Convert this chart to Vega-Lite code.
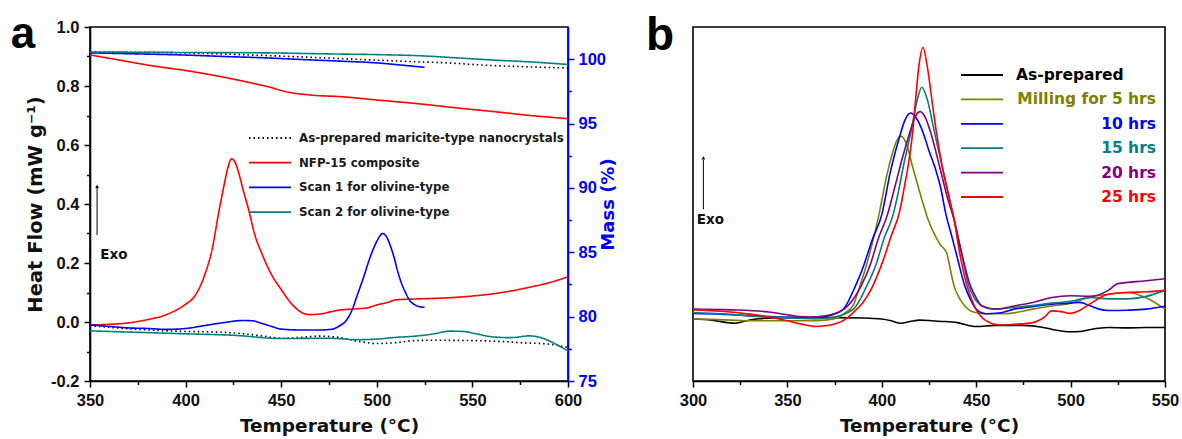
{
  "$schema": "https://vega.github.io/schema/vega-lite/v6.json",
  "background": "white",
  "padding": {"left": 10, "top": 12, "right": 5, "bottom": 5},
  "config": {
    "font": "Liberation Sans",
    "view": {"stroke": "#000", "strokeWidth": 1.6},
    "axis": {"grid": false, "labelFont": "Liberation Sans", "labelFontWeight": "bold", "labelFontSize": 16.5, "labelColor": "#111", "titleFont": "DejaVu Sans", "titleFontWeight": "bold", "titleFontSize": 18.5, "titleColor": "#111", "domainColor": "#000", "domainWidth": 1.6, "tickColor": "#000", "tickWidth": 1.5, "tickSize": 6, "labelPadding": 5, "labelFlush": false, "labelOverlap": false},
    "legend": {"padding": 0, "titlePadding": 0}
  },
  "datasets": {
    "dsc_a": [
      {"s":"As-prepared maricite-type nanocrystals","T":350,"hf":-0.012},{"s":"As-prepared maricite-type nanocrystals","T":360,"hf":-0.018},{"s":"As-prepared maricite-type nanocrystals","T":375,"hf":-0.025},{"s":"As-prepared maricite-type nanocrystals","T":390,"hf":-0.03},{"s":"As-prepared maricite-type nanocrystals","T":400,"hf":-0.032},{"s":"As-prepared maricite-type nanocrystals","T":410,"hf":-0.033},{"s":"As-prepared maricite-type nanocrystals","T":425,"hf":-0.037},{"s":"As-prepared maricite-type nanocrystals","T":440,"hf":-0.047},{"s":"As-prepared maricite-type nanocrystals","T":450,"hf":-0.055},{"s":"As-prepared maricite-type nanocrystals","T":460,"hf":-0.052},{"s":"As-prepared maricite-type nanocrystals","T":470,"hf":-0.048},{"s":"As-prepared maricite-type nanocrystals","T":480,"hf":-0.052},{"s":"As-prepared maricite-type nanocrystals","T":490,"hf":-0.065},{"s":"As-prepared maricite-type nanocrystals","T":500,"hf":-0.073},{"s":"As-prepared maricite-type nanocrystals","T":510,"hf":-0.07},{"s":"As-prepared maricite-type nanocrystals","T":520,"hf":-0.063},{"s":"As-prepared maricite-type nanocrystals","T":530,"hf":-0.062},{"s":"As-prepared maricite-type nanocrystals","T":550,"hf":-0.063},{"s":"As-prepared maricite-type nanocrystals","T":565,"hf":-0.066},{"s":"As-prepared maricite-type nanocrystals","T":575,"hf":-0.07},{"s":"As-prepared maricite-type nanocrystals","T":590,"hf":-0.075},{"s":"As-prepared maricite-type nanocrystals","T":600,"hf":-0.087},
      {"s":"NFP-15 composite","T":350,"hf":-0.01},{"s":"NFP-15 composite","T":360,"hf":-0.008},{"s":"NFP-15 composite","T":370,"hf":-0.003},{"s":"NFP-15 composite","T":380,"hf":0.008},{"s":"NFP-15 composite","T":390,"hf":0.025},{"s":"NFP-15 composite","T":395,"hf":0.04},{"s":"NFP-15 composite","T":400,"hf":0.06},{"s":"NFP-15 composite","T":405,"hf":0.09},{"s":"NFP-15 composite","T":410,"hf":0.16},{"s":"NFP-15 composite","T":414,"hf":0.25},{"s":"NFP-15 composite","T":417,"hf":0.36},{"s":"NFP-15 composite","T":420,"hf":0.46},{"s":"NFP-15 composite","T":422,"hf":0.52},{"s":"NFP-15 composite","T":424,"hf":0.553},{"s":"NFP-15 composite","T":426,"hf":0.54},{"s":"NFP-15 composite","T":428,"hf":0.5},{"s":"NFP-15 composite","T":430,"hf":0.45},{"s":"NFP-15 composite","T":433,"hf":0.38},{"s":"NFP-15 composite","T":436,"hf":0.3},{"s":"NFP-15 composite","T":440,"hf":0.23},{"s":"NFP-15 composite","T":445,"hf":0.16},{"s":"NFP-15 composite","T":450,"hf":0.11},{"s":"NFP-15 composite","T":455,"hf":0.065},{"s":"NFP-15 composite","T":460,"hf":0.035},{"s":"NFP-15 composite","T":465,"hf":0.025},{"s":"NFP-15 composite","T":470,"hf":0.027},{"s":"NFP-15 composite","T":480,"hf":0.04},{"s":"NFP-15 composite","T":490,"hf":0.045},{"s":"NFP-15 composite","T":495,"hf":0.048},{"s":"NFP-15 composite","T":500,"hf":0.058},{"s":"NFP-15 composite","T":505,"hf":0.065},{"s":"NFP-15 composite","T":510,"hf":0.075},{"s":"NFP-15 composite","T":520,"hf":0.078},{"s":"NFP-15 composite","T":530,"hf":0.08},{"s":"NFP-15 composite","T":540,"hf":0.083},{"s":"NFP-15 composite","T":550,"hf":0.088},{"s":"NFP-15 composite","T":560,"hf":0.095},{"s":"NFP-15 composite","T":570,"hf":0.105},{"s":"NFP-15 composite","T":580,"hf":0.118},{"s":"NFP-15 composite","T":590,"hf":0.133},{"s":"NFP-15 composite","T":600,"hf":0.153},
      {"s":"Scan 1 for olivine-type","T":350,"hf":-0.01},{"s":"Scan 1 for olivine-type","T":360,"hf":-0.015},{"s":"Scan 1 for olivine-type","T":370,"hf":-0.02},{"s":"Scan 1 for olivine-type","T":380,"hf":-0.022},{"s":"Scan 1 for olivine-type","T":390,"hf":-0.025},{"s":"Scan 1 for olivine-type","T":400,"hf":-0.022},{"s":"Scan 1 for olivine-type","T":410,"hf":-0.012},{"s":"Scan 1 for olivine-type","T":420,"hf":-0.002},{"s":"Scan 1 for olivine-type","T":430,"hf":0.005},{"s":"Scan 1 for olivine-type","T":435,"hf":0.004},{"s":"Scan 1 for olivine-type","T":440,"hf":-0.005},{"s":"Scan 1 for olivine-type","T":445,"hf":-0.015},{"s":"Scan 1 for olivine-type","T":450,"hf":-0.024},{"s":"Scan 1 for olivine-type","T":460,"hf":-0.027},{"s":"Scan 1 for olivine-type","T":470,"hf":-0.027},{"s":"Scan 1 for olivine-type","T":476,"hf":-0.025},{"s":"Scan 1 for olivine-type","T":480,"hf":-0.015},{"s":"Scan 1 for olivine-type","T":484,"hf":0.005},{"s":"Scan 1 for olivine-type","T":487,"hf":0.04},{"s":"Scan 1 for olivine-type","T":490,"hf":0.095},{"s":"Scan 1 for olivine-type","T":493,"hf":0.15},{"s":"Scan 1 for olivine-type","T":496,"hf":0.21},{"s":"Scan 1 for olivine-type","T":499,"hf":0.26},{"s":"Scan 1 for olivine-type","T":501,"hf":0.285},{"s":"Scan 1 for olivine-type","T":503,"hf":0.3},{"s":"Scan 1 for olivine-type","T":505,"hf":0.29},{"s":"Scan 1 for olivine-type","T":507,"hf":0.26},{"s":"Scan 1 for olivine-type","T":509,"hf":0.22},{"s":"Scan 1 for olivine-type","T":511,"hf":0.17},{"s":"Scan 1 for olivine-type","T":513,"hf":0.13},{"s":"Scan 1 for olivine-type","T":515,"hf":0.1},{"s":"Scan 1 for olivine-type","T":517,"hf":0.075},{"s":"Scan 1 for olivine-type","T":520,"hf":0.058},{"s":"Scan 1 for olivine-type","T":522,"hf":0.052},{"s":"Scan 1 for olivine-type","T":525,"hf":0.05},
      {"s":"Scan 2 for olivine-type","T":350,"hf":-0.03},{"s":"Scan 2 for olivine-type","T":375,"hf":-0.035},{"s":"Scan 2 for olivine-type","T":400,"hf":-0.04},{"s":"Scan 2 for olivine-type","T":425,"hf":-0.045},{"s":"Scan 2 for olivine-type","T":450,"hf":-0.056},{"s":"Scan 2 for olivine-type","T":475,"hf":-0.055},{"s":"Scan 2 for olivine-type","T":490,"hf":-0.06},{"s":"Scan 2 for olivine-type","T":500,"hf":-0.058},{"s":"Scan 2 for olivine-type","T":510,"hf":-0.052},{"s":"Scan 2 for olivine-type","T":520,"hf":-0.048},{"s":"Scan 2 for olivine-type","T":530,"hf":-0.04},{"s":"Scan 2 for olivine-type","T":538,"hf":-0.031},{"s":"Scan 2 for olivine-type","T":545,"hf":-0.032},{"s":"Scan 2 for olivine-type","T":552,"hf":-0.04},{"s":"Scan 2 for olivine-type","T":560,"hf":-0.05},{"s":"Scan 2 for olivine-type","T":570,"hf":-0.053},{"s":"Scan 2 for olivine-type","T":580,"hf":-0.047},{"s":"Scan 2 for olivine-type","T":588,"hf":-0.058},{"s":"Scan 2 for olivine-type","T":595,"hf":-0.08},{"s":"Scan 2 for olivine-type","T":600,"hf":-0.098}
    ],
    "mass_a": [
      {"s":"As-prepared maricite-type nanocrystals","T":350,"m":100.56},{"s":"As-prepared maricite-type nanocrystals","T":400,"m":100.49},{"s":"As-prepared maricite-type nanocrystals","T":433,"m":100.33},{"s":"As-prepared maricite-type nanocrystals","T":460,"m":100.18},{"s":"As-prepared maricite-type nanocrystals","T":485,"m":100.02},{"s":"As-prepared maricite-type nanocrystals","T":510,"m":99.86},{"s":"As-prepared maricite-type nanocrystals","T":537,"m":99.71},{"s":"As-prepared maricite-type nanocrystals","T":560,"m":99.51},{"s":"As-prepared maricite-type nanocrystals","T":580,"m":99.4},{"s":"As-prepared maricite-type nanocrystals","T":600,"m":99.32},
      {"s":"NFP-15 composite","T":350,"m":100.33},{"s":"NFP-15 composite","T":365,"m":99.94},{"s":"NFP-15 composite","T":382,"m":99.5},{"s":"NFP-15 composite","T":400,"m":99.12},{"s":"NFP-15 composite","T":422,"m":98.54},{"s":"NFP-15 composite","T":432,"m":98.23},{"s":"NFP-15 composite","T":442,"m":97.9},{"s":"NFP-15 composite","T":454,"m":97.43},{"s":"NFP-15 composite","T":465,"m":97.22},{"s":"NFP-15 composite","T":483,"m":97.07},{"s":"NFP-15 composite","T":500,"m":96.83},{"s":"NFP-15 composite","T":523,"m":96.52},{"s":"NFP-15 composite","T":542,"m":96.21},{"s":"NFP-15 composite","T":563,"m":95.9},{"s":"NFP-15 composite","T":580,"m":95.63},{"s":"NFP-15 composite","T":600,"m":95.38},
      {"s":"Scan 1 for olivine-type","T":350,"m":100.49},{"s":"Scan 1 for olivine-type","T":375,"m":100.41},{"s":"Scan 1 for olivine-type","T":402,"m":100.31},{"s":"Scan 1 for olivine-type","T":420,"m":100.21},{"s":"Scan 1 for olivine-type","T":442,"m":100.1},{"s":"Scan 1 for olivine-type","T":460,"m":99.98},{"s":"Scan 1 for olivine-type","T":482,"m":99.84},{"s":"Scan 1 for olivine-type","T":500,"m":99.71},{"s":"Scan 1 for olivine-type","T":515,"m":99.51},{"s":"Scan 1 for olivine-type","T":525,"m":99.37},
      {"s":"Scan 2 for olivine-type","T":350,"m":100.56},{"s":"Scan 2 for olivine-type","T":400,"m":100.52},{"s":"Scan 2 for olivine-type","T":442,"m":100.49},{"s":"Scan 2 for olivine-type","T":475,"m":100.41},{"s":"Scan 2 for olivine-type","T":502,"m":100.35},{"s":"Scan 2 for olivine-type","T":525,"m":100.25},{"s":"Scan 2 for olivine-type","T":542,"m":100.1},{"s":"Scan 2 for olivine-type","T":560,"m":99.94},{"s":"Scan 2 for olivine-type","T":580,"m":99.79},{"s":"Scan 2 for olivine-type","T":600,"m":99.59}
    ],
    "dsc_b": [
      {"s":"As-prepared","T":300,"v":0.175},{"s":"As-prepared","T":310,"v":0.172},{"s":"As-prepared","T":318,"v":0.165},{"s":"As-prepared","T":322,"v":0.163},{"s":"As-prepared","T":328,"v":0.17},{"s":"As-prepared","T":335,"v":0.176},{"s":"As-prepared","T":350,"v":0.179},{"s":"As-prepared","T":375,"v":0.179},{"s":"As-prepared","T":390,"v":0.178},{"s":"As-prepared","T":400,"v":0.175},{"s":"As-prepared","T":405,"v":0.17},{"s":"As-prepared","T":410,"v":0.163},{"s":"As-prepared","T":415,"v":0.168},{"s":"As-prepared","T":420,"v":0.172},{"s":"As-prepared","T":425,"v":0.171},{"s":"As-prepared","T":430,"v":0.169},{"s":"As-prepared","T":440,"v":0.165},{"s":"As-prepared","T":450,"v":0.154},{"s":"As-prepared","T":460,"v":0.157},{"s":"As-prepared","T":475,"v":0.157},{"s":"As-prepared","T":485,"v":0.152},{"s":"As-prepared","T":490,"v":0.146},{"s":"As-prepared","T":500,"v":0.139},{"s":"As-prepared","T":505,"v":0.14},{"s":"As-prepared","T":510,"v":0.145},{"s":"As-prepared","T":520,"v":0.151},{"s":"As-prepared","T":530,"v":0.15},{"s":"As-prepared","T":540,"v":0.151},{"s":"As-prepared","T":550,"v":0.151},
      {"s":"Milling for 5 hrs","T":300,"v":0.175},{"s":"Milling for 5 hrs","T":310,"v":0.174},{"s":"Milling for 5 hrs","T":320,"v":0.172},{"s":"Milling for 5 hrs","T":330,"v":0.17},{"s":"Milling for 5 hrs","T":345,"v":0.17},{"s":"Milling for 5 hrs","T":360,"v":0.17},{"s":"Milling for 5 hrs","T":370,"v":0.172},{"s":"Milling for 5 hrs","T":375,"v":0.176},{"s":"Milling for 5 hrs","T":380,"v":0.19},{"s":"Milling for 5 hrs","T":385,"v":0.215},{"s":"Milling for 5 hrs","T":388,"v":0.262},{"s":"Milling for 5 hrs","T":392,"v":0.33},{"s":"Milling for 5 hrs","T":395,"v":0.39},{"s":"Milling for 5 hrs","T":398.5,"v":0.47},{"s":"Milling for 5 hrs","T":402.6,"v":0.58},{"s":"Milling for 5 hrs","T":406,"v":0.65},{"s":"Milling for 5 hrs","T":408,"v":0.68},{"s":"Milling for 5 hrs","T":410.4,"v":0.691},{"s":"Milling for 5 hrs","T":413,"v":0.67},{"s":"Milling for 5 hrs","T":416.3,"v":0.606},{"s":"Milling for 5 hrs","T":421.2,"v":0.513},{"s":"Milling for 5 hrs","T":424.5,"v":0.456},{"s":"Milling for 5 hrs","T":428.4,"v":0.409},{"s":"Milling for 5 hrs","T":431,"v":0.385},{"s":"Milling for 5 hrs","T":434.3,"v":0.363},{"s":"Milling for 5 hrs","T":436.5,"v":0.31},{"s":"Milling for 5 hrs","T":438.3,"v":0.268},{"s":"Milling for 5 hrs","T":441,"v":0.235},{"s":"Milling for 5 hrs","T":444,"v":0.212},{"s":"Milling for 5 hrs","T":449,"v":0.194},{"s":"Milling for 5 hrs","T":455,"v":0.19},{"s":"Milling for 5 hrs","T":465,"v":0.19},{"s":"Milling for 5 hrs","T":480,"v":0.203},{"s":"Milling for 5 hrs","T":490,"v":0.212},{"s":"Milling for 5 hrs","T":500,"v":0.22},{"s":"Milling for 5 hrs","T":510,"v":0.236},{"s":"Milling for 5 hrs","T":520,"v":0.245},{"s":"Milling for 5 hrs","T":530,"v":0.25},{"s":"Milling for 5 hrs","T":540,"v":0.235},{"s":"Milling for 5 hrs","T":550,"v":0.203},
      {"s":"10 hrs","T":300,"v":0.191},{"s":"10 hrs","T":315,"v":0.189},{"s":"10 hrs","T":330,"v":0.184},{"s":"10 hrs","T":345,"v":0.181},{"s":"10 hrs","T":355,"v":0.18},{"s":"10 hrs","T":365,"v":0.18},{"s":"10 hrs","T":370,"v":0.182},{"s":"10 hrs","T":375,"v":0.189},{"s":"10 hrs","T":380,"v":0.205},{"s":"10 hrs","T":386,"v":0.268},{"s":"10 hrs","T":390,"v":0.32},{"s":"10 hrs","T":395,"v":0.4},{"s":"10 hrs","T":400,"v":0.47},{"s":"10 hrs","T":404.5,"v":0.59},{"s":"10 hrs","T":409.4,"v":0.69},{"s":"10 hrs","T":412.5,"v":0.74},{"s":"10 hrs","T":415.3,"v":0.757},{"s":"10 hrs","T":418,"v":0.745},{"s":"10 hrs","T":422,"v":0.7},{"s":"10 hrs","T":425,"v":0.65},{"s":"10 hrs","T":428,"v":0.606},{"s":"10 hrs","T":431,"v":0.55},{"s":"10 hrs","T":434,"v":0.47},{"s":"10 hrs","T":437,"v":0.41},{"s":"10 hrs","T":439.3,"v":0.363},{"s":"10 hrs","T":444,"v":0.268},{"s":"10 hrs","T":447,"v":0.23},{"s":"10 hrs","T":450,"v":0.203},{"s":"10 hrs","T":455,"v":0.19},{"s":"10 hrs","T":462,"v":0.192},{"s":"10 hrs","T":470,"v":0.203},{"s":"10 hrs","T":480,"v":0.21},{"s":"10 hrs","T":490,"v":0.217},{"s":"10 hrs","T":500,"v":0.22},{"s":"10 hrs","T":505,"v":0.222},{"s":"10 hrs","T":510,"v":0.213},{"s":"10 hrs","T":515,"v":0.203},{"s":"10 hrs","T":520,"v":0.199},{"s":"10 hrs","T":530,"v":0.2},{"s":"10 hrs","T":540,"v":0.203},{"s":"10 hrs","T":550,"v":0.211},
      {"s":"15 hrs","T":300,"v":0.193},{"s":"15 hrs","T":315,"v":0.19},{"s":"15 hrs","T":330,"v":0.184},{"s":"15 hrs","T":350,"v":0.178},{"s":"15 hrs","T":365,"v":0.176},{"s":"15 hrs","T":375,"v":0.181},{"s":"15 hrs","T":385,"v":0.203},{"s":"15 hrs","T":392,"v":0.268},{"s":"15 hrs","T":397,"v":0.33},{"s":"15 hrs","T":401,"v":0.4},{"s":"15 hrs","T":406,"v":0.47},{"s":"15 hrs","T":409,"v":0.54},{"s":"15 hrs","T":411.4,"v":0.606},{"s":"15 hrs","T":415.3,"v":0.7},{"s":"15 hrs","T":418.8,"v":0.795},{"s":"15 hrs","T":421.2,"v":0.83},{"s":"15 hrs","T":424.1,"v":0.795},{"s":"15 hrs","T":428,"v":0.7},{"s":"15 hrs","T":432,"v":0.606},{"s":"15 hrs","T":435.9,"v":0.513},{"s":"15 hrs","T":438.3,"v":0.456},{"s":"15 hrs","T":442.2,"v":0.363},{"s":"15 hrs","T":446.1,"v":0.268},{"s":"15 hrs","T":449,"v":0.235},{"s":"15 hrs","T":453,"v":0.212},{"s":"15 hrs","T":459,"v":0.203},{"s":"15 hrs","T":470,"v":0.208},{"s":"15 hrs","T":480,"v":0.213},{"s":"15 hrs","T":490,"v":0.22},{"s":"15 hrs","T":500,"v":0.225},{"s":"15 hrs","T":510,"v":0.236},{"s":"15 hrs","T":520,"v":0.232},{"s":"15 hrs","T":530,"v":0.232},{"s":"15 hrs","T":540,"v":0.239},{"s":"15 hrs","T":550,"v":0.256},
      {"s":"20 hrs","T":300,"v":0.203},{"s":"20 hrs","T":320,"v":0.201},{"s":"20 hrs","T":340,"v":0.195},{"s":"20 hrs","T":355,"v":0.183},{"s":"20 hrs","T":362,"v":0.18},{"s":"20 hrs","T":370,"v":0.184},{"s":"20 hrs","T":380,"v":0.203},{"s":"20 hrs","T":389,"v":0.268},{"s":"20 hrs","T":394,"v":0.33},{"s":"20 hrs","T":398,"v":0.4},{"s":"20 hrs","T":403,"v":0.47},{"s":"20 hrs","T":407,"v":0.55},{"s":"20 hrs","T":410.4,"v":0.62},{"s":"20 hrs","T":415.3,"v":0.71},{"s":"20 hrs","T":418,"v":0.75},{"s":"20 hrs","T":420.4,"v":0.761},{"s":"20 hrs","T":423,"v":0.745},{"s":"20 hrs","T":426,"v":0.7},{"s":"20 hrs","T":430.6,"v":0.606},{"s":"20 hrs","T":435,"v":0.513},{"s":"20 hrs","T":438.3,"v":0.456},{"s":"20 hrs","T":442.2,"v":0.363},{"s":"20 hrs","T":447,"v":0.268},{"s":"20 hrs","T":450,"v":0.235},{"s":"20 hrs","T":453,"v":0.212},{"s":"20 hrs","T":461,"v":0.203},{"s":"20 hrs","T":470,"v":0.212},{"s":"20 hrs","T":480,"v":0.222},{"s":"20 hrs","T":490,"v":0.236},{"s":"20 hrs","T":500,"v":0.241},{"s":"20 hrs","T":510,"v":0.239},{"s":"20 hrs","T":520,"v":0.256},{"s":"20 hrs","T":525,"v":0.275},{"s":"20 hrs","T":540,"v":0.283},{"s":"20 hrs","T":550,"v":0.289},
      {"s":"25 hrs","T":300,"v":0.201},{"s":"25 hrs","T":315,"v":0.197},{"s":"25 hrs","T":330,"v":0.189},{"s":"25 hrs","T":345,"v":0.176},{"s":"25 hrs","T":350,"v":0.17},{"s":"25 hrs","T":358,"v":0.16},{"s":"25 hrs","T":365,"v":0.154},{"s":"25 hrs","T":370,"v":0.156},{"s":"25 hrs","T":375,"v":0.161},{"s":"25 hrs","T":380,"v":0.172},{"s":"25 hrs","T":385,"v":0.194},{"s":"25 hrs","T":390,"v":0.222},{"s":"25 hrs","T":394,"v":0.255},{"s":"25 hrs","T":397,"v":0.29},{"s":"25 hrs","T":401,"v":0.345},{"s":"25 hrs","T":405,"v":0.41},{"s":"25 hrs","T":409.5,"v":0.48},{"s":"25 hrs","T":412,"v":0.55},{"s":"25 hrs","T":414.3,"v":0.62},{"s":"25 hrs","T":416.3,"v":0.7},{"s":"25 hrs","T":417.9,"v":0.795},{"s":"25 hrs","T":419.6,"v":0.888},{"s":"25 hrs","T":421.8,"v":0.942},{"s":"25 hrs","T":424.1,"v":0.888},{"s":"25 hrs","T":426.5,"v":0.795},{"s":"25 hrs","T":429,"v":0.7},{"s":"25 hrs","T":432,"v":0.606},{"s":"25 hrs","T":435.9,"v":0.513},{"s":"25 hrs","T":438.3,"v":0.456},{"s":"25 hrs","T":441.2,"v":0.363},{"s":"25 hrs","T":445.2,"v":0.268},{"s":"25 hrs","T":449,"v":0.212},{"s":"25 hrs","T":454,"v":0.175},{"s":"25 hrs","T":463,"v":0.158},{"s":"25 hrs","T":470,"v":0.16},{"s":"25 hrs","T":480,"v":0.165},{"s":"25 hrs","T":486,"v":0.18},{"s":"25 hrs","T":490,"v":0.198},{"s":"25 hrs","T":495,"v":0.196},{"s":"25 hrs","T":500,"v":0.191},{"s":"25 hrs","T":505,"v":0.2},{"s":"25 hrs","T":510,"v":0.217},{"s":"25 hrs","T":520,"v":0.245},{"s":"25 hrs","T":530,"v":0.25},{"s":"25 hrs","T":540,"v":0.252},{"s":"25 hrs","T":550,"v":0.256}
    ]
  },
  "spacing": 26,
  "resolve": {"scale": {"color": "independent", "strokeDash": "independent"}, "legend": {"color": "independent", "strokeDash": "independent"}},
  "hconcat": [
    {
      "width": 478,
      "height": 354,
      "layer": [
        {
          "data": {"name": "dsc_a"},
          "mark": {"type": "line", "strokeWidth": 1.6, "interpolate": "monotone"},
          "encoding": {
            "x": {"field": "T", "type": "quantitative", "scale": {"domain": [350, 600], "nice": false}, "axis": {"orient": "bottom", "values": [350, 400, 450, 500, 550, 600], "title": "Temperature (°C)", "titlePadding": 8}},
            "y": {"field": "hf", "type": "quantitative", "scale": {"domain": [-0.2, 1.0], "nice": false}, "axis": {"orient": "left", "values": [-0.2, 0, 0.2, 0.4, 0.6, 0.8, 1.0], "labelExpr": "datum.value < 0 ? '-' + format(-datum.value, '.1f') : format(datum.value, '.1f')", "title": "Heat Flow (mW g⁻¹)", "titleFontSize": 19.5, "titlePadding": 5}},
            "color": {"field": "s", "type": "nominal", "scale": {"domain": ["As-prepared maricite-type nanocrystals", "NFP-15 composite", "Scan 1 for olivine-type", "Scan 2 for olivine-type"], "range": ["#000000", "#ff0000", "#0000ff", "#008080"]}, "legend": {"orient": "none", "legendX": 172, "legendY": 103, "direction": "vertical", "title": null, "symbolType": "M-3,0H3", "symbolSize": 196, "symbolStrokeWidth": 1.8, "labelFont": "DejaVu Sans", "labelFontWeight": "bold", "labelFontSize": 11.8, "labelColor": "#1a1a1a", "labelLimit": 400, "labelOffset": 21, "rowPadding": 9.7}},
            "strokeDash": {"field": "s", "type": "nominal", "scale": {"domain": ["As-prepared maricite-type nanocrystals", "NFP-15 composite", "Scan 1 for olivine-type", "Scan 2 for olivine-type"], "range": [[1.5, 3], [1, 0], [1, 0], [1, 0]]}, "legend": {"orient": "none", "legendX": 172, "legendY": 103, "direction": "vertical", "title": null, "symbolType": "M-3,0H3", "symbolSize": 196, "symbolStrokeWidth": 1.8, "labelFont": "DejaVu Sans", "labelFontWeight": "bold", "labelFontSize": 11.8, "labelColor": "#1a1a1a", "labelLimit": 400, "labelOffset": 21, "rowPadding": 9.7}}
          }
        },
        {
          "data": {"values": [{}]},
          "mark": {"type": "rule", "color": "#000", "strokeWidth": 1},
          "encoding": {
            "x": {"datum": 353.7, "axis": {"orient": "bottom", "values": [375, 425, 475, 525, 575], "labels": false, "domain": false, "title": null, "tickSize": 3.5}},
            "y": {"datum": 0.295, "scale": {"domain": [-0.2, 1.0], "nice": false}, "axis": {"orient": "left", "values": [-0.1, 0.1, 0.3, 0.5, 0.7, 0.9], "labels": false, "domain": false, "title": null, "tickSize": 3.5}},
            "y2": {"datum": 0.455}
          }
        },
        {
          "data": {"values": [{}]},
          "mark": {"type": "point", "shape": "triangle-up", "filled": true, "color": "#000", "size": 14, "opacity": 1},
          "encoding": {"x": {"datum": 353.7, "axis": null}, "y": {"datum": 0.46, "scale": {"domain": [-0.2, 1.0], "nice": false}, "axis": null}}
        },
        {
          "data": {"values": [{}]},
          "mark": {"type": "text", "text": "Exo", "font": "DejaVu Sans", "fontWeight": "bold", "fontSize": 13.5, "align": "left", "baseline": "middle", "color": "#111"},
          "encoding": {"x": {"datum": 355.4, "axis": null}, "y": {"datum": 0.227, "scale": {"domain": [-0.2, 1.0], "nice": false}, "axis": null}}
        },
        {
          "data": {"values": [{}]},
          "mark": {"type": "text", "text": "a", "font": "Liberation Sans", "fontWeight": "bold", "fontSize": 44, "align": "center", "baseline": "alphabetic", "color": "#000"},
          "encoding": {"x": {"datum": 315, "axis": null}, "y": {"datum": 0.929, "scale": {"domain": [-0.2, 1.0], "nice": false}, "axis": null}}
        },
        {
          "data": {"name": "mass_a"},
          "mark": {"type": "line", "strokeWidth": 1.6, "interpolate": "monotone"},
          "encoding": {
            "x": {"field": "T", "type": "quantitative", "axis": null},
            "y": {"field": "m", "type": "quantitative", "scale": {"domain": [75, 102.5], "nice": false}, "axis": {"orient": "right", "values": [75, 80, 85, 90, 95, 100], "title": "Mass (%)", "titleFontSize": 18, "titleAngle": 270, "titleBaseline": "top", "titlePadding": -6, "labelPadding": 4, "domainColor": "#0000ff", "tickColor": "#0000ff", "labelColor": "#0000ff", "titleColor": "#0000ff"}},
            "color": {"field": "s", "type": "nominal"},
            "strokeDash": {"field": "s", "type": "nominal"}
          }
        },
        {
          "data": {"values": [{}]},
          "mark": {"type": "rule", "opacity": 0},
          "encoding": {"y": {"datum": 90, "scale": {"domain": [75, 102.5], "nice": false}, "axis": {"orient": "right", "values": [77.5, 82.5, 87.5, 92.5, 97.5], "labels": false, "domain": false, "title": null, "tickSize": 3.5, "tickColor": "#0000ff"}}}
        }
      ],
      "resolve": {"scale": {"y": "independent"}, "axis": {"x": "independent", "y": "independent"}}
    },
    {
      "width": 472,
      "height": 354,
      "layer": [
        {
          "data": {"name": "dsc_b"},
          "mark": {"type": "line", "strokeWidth": 1.6, "interpolate": "monotone"},
          "encoding": {
            "x": {"field": "T", "type": "quantitative", "scale": {"domain": [300, 550], "nice": false}, "axis": {"orient": "bottom", "values": [300, 350, 400, 450, 500, 550], "title": "Temperature (°C)", "titlePadding": 8}},
            "y": {"field": "v", "type": "quantitative", "scale": {"domain": [0, 1], "nice": false}, "axis": {"labels": false, "ticks": false, "title": "Heat Flow (a.u.)", "titleFontSize": 20.5, "titlePadding": 16}},
            "color": {"field": "s", "type": "nominal", "scale": {"domain": ["As-prepared", "Milling for 5 hrs", "10 hrs", "15 hrs", "20 hrs", "25 hrs"], "range": ["#000000", "#808000", "#0000ff", "#008080", "#800080", "#ff0000"]}, "legend": {"orient": "none", "legendX": 281, "legendY": 40, "direction": "vertical", "title": null, "symbolType": "M-3,0H3", "symbolSize": 196, "symbolStrokeWidth": 1.8, "labelFont": "DejaVu Sans", "labelFontWeight": "bold", "labelFontSize": 15.5, "labelLimit": 400, "labelOffset": 166, "labelAlign": "right", "rowPadding": 7.4,
              "encoding": {"labels": {"fill": {"value": {"expr": "datum.label === 'Milling for 5 hrs' ? '#808000' : datum.label === '10 hrs' ? '#0000ff' : datum.label === '15 hrs' ? '#008080' : datum.label === '20 hrs' ? '#800080' : datum.label === '25 hrs' ? '#ff0000' : '#000000'"}}, "align": {"value": {"expr": "datum.label === 'As-prepared' ? 'left' : 'right'"}}, "dx": {"value": {"expr": "datum.label === 'As-prepared' ? -140 : 0"}}}}}}
          }
        },
        {
          "data": {"values": [{}]},
          "mark": {"type": "rule", "color": "#000", "strokeWidth": 1},
          "encoding": {"x": {"datum": 305.5, "axis": {"orient": "bottom", "values": [325, 375, 425, 475, 525], "labels": false, "domain": false, "title": null, "tickSize": 3.5}}, "y": {"datum": 0.485, "axis": null}, "y2": {"datum": 0.625}}
        },
        {
          "data": {"values": [{}]},
          "mark": {"type": "point", "shape": "triangle-up", "filled": true, "color": "#000", "size": 14, "opacity": 1},
          "encoding": {"x": {"datum": 305.5, "axis": null}, "y": {"datum": 0.63, "axis": null}}
        },
        {
          "data": {"values": [{}]},
          "mark": {"type": "text", "text": "Exo", "font": "DejaVu Sans", "fontWeight": "bold", "fontSize": 13.5, "align": "left", "baseline": "middle", "color": "#111"},
          "encoding": {"x": {"datum": 302, "axis": null}, "y": {"datum": 0.456, "axis": null}}
        },
        {
          "data": {"values": [{}]},
          "mark": {"type": "text", "text": "b", "font": "Liberation Sans", "fontWeight": "bold", "fontSize": 46, "align": "center", "baseline": "alphabetic", "color": "#000"},
          "encoding": {"x": {"datum": 282.5, "axis": null}, "y": {"datum": 0.935, "axis": null}}
        }
      ],
      "resolve": {"axis": {"x": "independent"}}
    }
  ]
}
